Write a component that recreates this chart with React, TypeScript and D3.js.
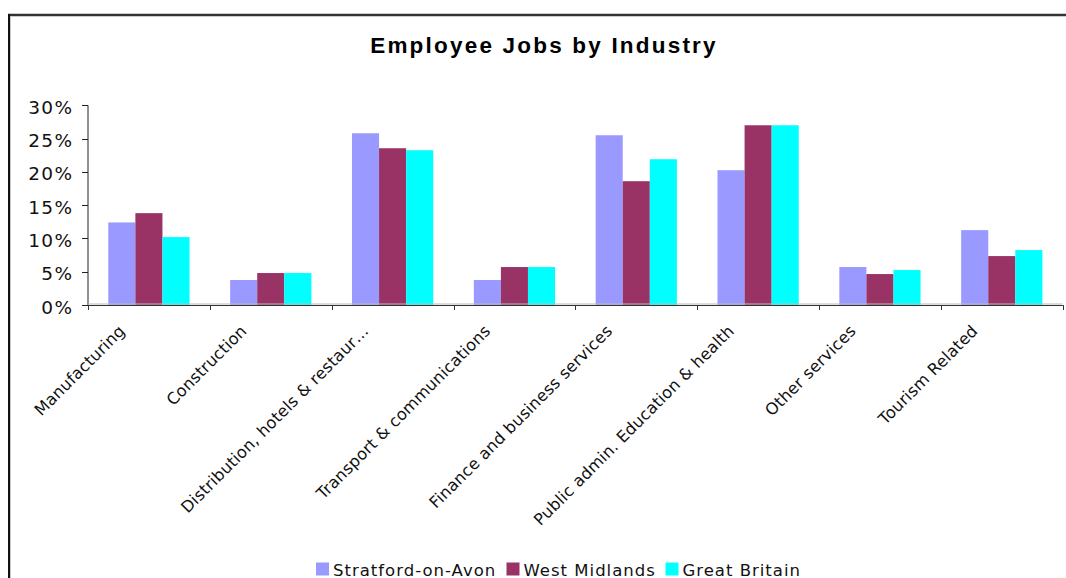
import React from "react";
import * as d3 from "d3";

const categories = [
  "Manufacturing",
  "Construction",
  "Distribution, hotels & restaur…",
  "Transport & communications",
  "Finance and business services",
  "Public admin. Education & health",
  "Other services",
  "Tourism Related",
];
const seriesNames = ["Stratford-on-Avon", "West Midlands", "Great Britain"];
const stratford = [12.4, 3.75, 25.8, 3.75, 25.5, 20.25, 5.7, 11.25];
const westMidlands = [13.8, 4.8, 23.55, 5.7, 18.6, 27.0, 4.65, 7.35];
const greatBritain = [10.2, 4.8, 23.25, 5.7, 21.9, 27.0, 5.25, 8.25];
const yTicks = [0, 5, 10, 15, 20, 25, 30];
const colors = ["#9999FF", "#993366", "#00FFFF"];

const W = 1066;
const H = 578;
const left = 88;
const right = 1062.7;
const top = 105.3;
const bottom = 305;

export default function App() {
  const values = [stratford, westMidlands, greatBritain];
  const x0 = d3.scaleBand<string>().domain(categories).range([left, right]).paddingInner(0).paddingOuter(0);
  const x1 = d3.scaleBand<string>().domain(seriesNames).range([0, x0.bandwidth()]).paddingInner(0).paddingOuter(0.75);
  const y = d3.scaleLinear().domain([0, 30]).range([bottom, top]);
  const font = "'DejaVu Sans', Verdana, sans-serif";
  const boundaries = d3.range(categories.length + 1).map((i) => left + i * x0.step());
  const legendSquares = [316, 506.5, 665.5];

  return (
    <svg width={W} height={H} style={{ position: "absolute", left: 0, top: 0, background: "#fff" }}>
      <rect x={0} y={0} width={W} height={H} fill="#fff" />
      {/* frame */}
      <line x1={8} x2={W} y1={15} y2={15} stroke="#333" strokeWidth={2.5} />
      <line x1={9} x2={9} y1={14} y2={H} stroke="#111" strokeWidth={2} />
      <line x1={10.5} x2={10.5} y1={16} y2={H} stroke="#c8c8c8" strokeWidth={1} />

      <text x={544} y={53} textAnchor="middle" fontFamily="'Liberation Sans', Arial, sans-serif" fontWeight="bold" fontSize={22.5} letterSpacing={2.2} fill="#000">
        Employee Jobs by Industry
      </text>

      {/* bars */}
      {categories.map((c, i) => (
        <g key={c} transform={`translate(${x0(c)},0)`}>
          {seriesNames.map((s, j) => (
            <rect key={s} x={x1(s)} y={y(values[j][i])} width={x1.bandwidth()} height={bottom - y(values[j][i])} fill={colors[j]} />
          ))}
        </g>
      ))}

      {/* y axis */}
      <line x1={left} x2={left} y1={top} y2={bottom} stroke="#222" strokeWidth={1} />
      {yTicks.map((t) => (
        <g key={t}>
          <line x1={left - 6} x2={left} y1={Math.round(y(t)) + 0.5} y2={Math.round(y(t)) + 0.5} stroke="#222" />
          <text x={73.5} y={y(t) + 8.5} textAnchor="end" fontFamily={font} fontSize={18.5} letterSpacing={1.4} fill="#111">
            {t}%
          </text>
        </g>
      ))}

      {/* x axis */}
      <line x1={left} x2={right} y1={304} y2={304} stroke="#bbb" strokeWidth={1} />
      <line x1={left} x2={right} y1={305.5} y2={305.5} stroke="#333" strokeWidth={1} />
      {boundaries.map((b, i) => (
        <line key={i} x1={Math.round(b) + 0.5} x2={Math.round(b) + 0.5} y1={305} y2={310} stroke="#333" />
      ))}
      {categories.map((c) => {
        const ax = (x0(c) as number) + x0.bandwidth() / 2 - 23;
        const ay = 332;
        return (
          <text key={c} transform={`translate(${ax},${ay}) rotate(-45)`} textAnchor="end" fontFamily={font} fontSize={16.2} letterSpacing={0.2} fill="#111">
            {c}
          </text>
        );
      })}

      {/* legend */}
      {seriesNames.map((s, j) => (
        <g key={s}>
          <rect x={legendSquares[j]} y={562.5} width={13} height={13} fill={colors[j]} />
          <text x={legendSquares[j] + 17} y={575.5} fontFamily={font} fontSize={16.5} letterSpacing={1} fill="#111">
            {s}
          </text>
        </g>
      ))}
    </svg>
  );
}
